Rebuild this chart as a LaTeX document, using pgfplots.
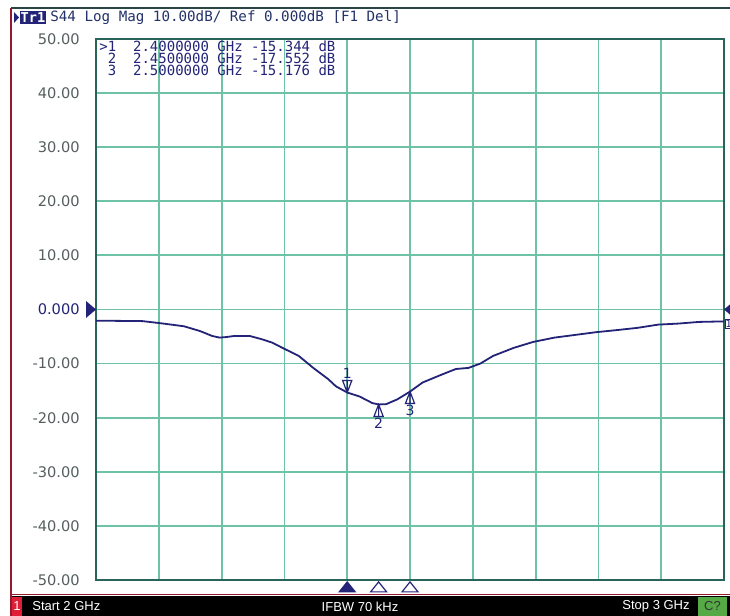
\documentclass[border=0pt]{standalone}
\usepackage{fontspec}
\usepackage{pgfplots}
\pgfplotsset{compat=1.18}
\setmainfont{DejaVu Sans}
\newfontfamily\dejavu{DejaVu Sans}
\newfontfamily\mono{DejaVu Sans Mono}
\newfontfamily\libsans{Liberation Sans}
\definecolor{navyc}{RGB}{35,35,120}
\definecolor{titlec}{RGB}{35,50,105}
\definecolor{gridc}{RGB}{110,195,165}
\definecolor{framec}{RGB}{40,100,90}
\definecolor{labgray}{RGB}{85,95,95}
\definecolor{redline}{RGB}{150,25,45}
\definecolor{topline}{RGB}{40,70,70}
\definecolor{redbox}{RGB}{225,30,55}
\definecolor{greenbox}{RGB}{85,170,70}

\pgfdeclareplotmark{mkdown}{%
  \pgfpathmoveto{\pgfpoint{0bp}{0bp}}%
  \pgfpathlineto{\pgfpoint{-2.3bp}{6bp}}%
  \pgfpathlineto{\pgfpoint{2.3bp}{6bp}}%
  \pgfpathclose
  \pgfpathmoveto{\pgfpoint{0bp}{0bp}}%
  \pgfpathlineto{\pgfpoint{0bp}{6bp}}%
  \pgfusepathqstroke}
\pgfdeclareplotmark{mkup}{%
  \pgfpathmoveto{\pgfpoint{0bp}{0bp}}%
  \pgfpathlineto{\pgfpoint{-2.3bp}{-6bp}}%
  \pgfpathlineto{\pgfpoint{2.3bp}{-6bp}}%
  \pgfpathclose
  \pgfpathmoveto{\pgfpoint{0bp}{0bp}}%
  \pgfpathlineto{\pgfpoint{0bp}{-6bp}}%
  \pgfusepathqstroke}
\pgfdeclareplotmark{btri}{%
  \pgfpathmoveto{\pgfpoint{-4bp}{0bp}}%
  \pgfpathlineto{\pgfpoint{4bp}{0bp}}%
  \pgfpathlineto{\pgfpoint{0bp}{5bp}}%
  \pgfpathclose
  \pgfusepathqfillstroke}
\pgfdeclareplotmark{refr}{%
  \pgfpathmoveto{\pgfpoint{0bp}{0bp}}%
  \pgfpathlineto{\pgfpoint{-5bp}{4.25bp}}%
  \pgfpathlineto{\pgfpoint{-5bp}{-4.25bp}}%
  \pgfpathclose
  \pgfusepathqfill}
\pgfdeclareplotmark{refl}{%
  \pgfpathmoveto{\pgfpoint{0bp}{0bp}}%
  \pgfpathlineto{\pgfpoint{5bp}{4.25bp}}%
  \pgfpathlineto{\pgfpoint{5bp}{-4.25bp}}%
  \pgfpathclose
  \pgfusepathqfill}

\begin{document}
\begin{tikzpicture}[x=0.5bp,y=0.5bp]
\useasboundingbox (0,0) rectangle (730,616);
\fill[white] (0,0) rectangle (730,616);
% bottom status bar
\fill[black] (11,0) rectangle (730,20);
\draw[redline, line width=0.9bp] (11,21.5) -- (730,21.5);
\draw[redline, line width=0.9bp] (11,0) -- (11,608);
\draw[topline, line width=0.8bp] (11,608) -- (730,608);
\fill[redbox] (12,0) rectangle (22,19);
\node[text=white, inner sep=0, font=\libsans\fontsize{6.5bp}{7bp}\selectfont] at (17,9.5) {1};
\node[anchor=west, inner sep=0, text=white, font=\libsans\fontsize{6.5bp}{7bp}\selectfont] at (32,9.5) {Start 2 GHz};
\node[inner sep=0, text=white, font=\libsans\fontsize{6.5bp}{7bp}\selectfont] at (360,9.5) {IFBW 70 kHz};
\node[anchor=east, inner sep=0, text=white, font=\libsans\fontsize{6.5bp}{7bp}\selectfont] at (690,9.5) {Stop 3 GHz};
\fill[greenbox] (698,0) rectangle (727,19);
\node[inner sep=0, text=black!80, font=\libsans\fontsize{6.5bp}{7bp}\selectfont] at (712.5,9.5) {C?};
% title
\fill[navyc] (14,604) -- (19,598.5) -- (14,593) -- cycle;
\fill[navyc] (20,592) rectangle (46,605);
\node[inner sep=0, text=white, font=\mono\bfseries\fontsize{6.8bp}{8bp}\selectfont] at (33,598.5) {Tr1};
\node[anchor=west, inner sep=0, text=titlec, font=\mono\fontsize{7.1bp}{8bp}\selectfont] at (50,598.5) {S44 Log Mag 10.00dB/ Ref 0.000dB [F1 Del]};

\begin{axis}[
  at={(48bp,18bp)}, anchor=south west, scale only axis,
  width=314bp, height=270.5bp,
  xmin=2, xmax=3, ymin=-50, ymax=50,
  xtick={2,2.1,2.2,2.3,2.4,2.5,2.6,2.7,2.8,2.9,3},
  xticklabels={},
  ytick={-50,-40,-30,-20,-10,0,10,20,30,40,50},
  yticklabels={-50.00,-40.00,-30.00,-20.00,-10.00,{\textcolor{navyc}{0.000}},10.00,20.00,30.00,40.00,50.00},
  yticklabel style={anchor=east, inner sep=0pt, xshift=-8bp, text=labgray, font=\dejavu\fontsize{7.3bp}{8bp}\selectfont},
  major tick length=0pt,
  grid=major,
  major grid style={draw=gridc, line width=0.9bp},
  axis line style={draw=framec, line width=0.8bp},
  clip=false,
]
\addplot[navyc, line width=0.9bp] coordinates {
(2.000,-2.1) (2.030,-2.1) (2.074,-2.15) (2.100,-2.5) (2.140,-3.1) (2.166,-4.0)
(2.185,-4.9) (2.197,-5.2) (2.207,-5.1) (2.220,-4.9) (2.245,-4.9) (2.264,-5.5)
(2.280,-6.1) (2.297,-7.1) (2.323,-8.6) (2.346,-10.8) (2.370,-12.9) (2.382,-14.2)
(2.400,-15.344) (2.420,-16.1) (2.440,-17.3) (2.450,-17.552) (2.462,-17.5) (2.480,-16.6)
(2.500,-15.176) (2.520,-13.5) (2.547,-12.2) (2.573,-11.0) (2.593,-10.8) (2.612,-10.0)
(2.632,-8.6) (2.665,-7.1) (2.696,-6.0) (2.730,-5.2) (2.763,-4.7) (2.796,-4.2)
(2.830,-3.8) (2.862,-3.4) (2.895,-2.8) (2.928,-2.6) (2.960,-2.3) (3.000,-2.2)
};
% marker 1 (active)
\addplot[navyc, only marks, mark=mkdown, mark options={line width=0.6bp},
  point meta=explicit symbolic, nodes near coords, nodes near coords align={above},
  every node near coord/.append style={inner sep=0pt, yshift=6.5bp, font=\dejavu\fontsize{7bp}{8bp}\selectfont, text=navyc}]
  coordinates {(2.4,-15.344) [1]};
% markers 2 and 3
\addplot[navyc, only marks, mark=mkup, mark options={line width=0.6bp},
  point meta=explicit symbolic, nodes near coords, nodes near coords align={below},
  every node near coord/.append style={inner sep=0pt, yshift=-6.7bp, font=\dejavu\fontsize{7bp}{8bp}\selectfont, text=navyc}]
  coordinates {(2.45,-17.552) [2] (2.5,-15.176) [3]};
% marker positions below the grid
\addplot[navyc, only marks, mark=btri, mark options={fill=navyc, line width=0.6bp}]
  coordinates {(2.4,-52.2)};
\addplot[navyc, only marks, mark=btri, mark options={fill=white, line width=0.6bp}]
  coordinates {(2.45,-52.2) (2.5,-52.2)};
% reference level markers
\addplot[navyc, only marks, mark=refr] coordinates {(2,0)};
\addplot[navyc, only marks, mark=refl] coordinates {(3,0)};
% trace end label
\addplot[navyc, only marks, mark=none,
  point meta=explicit symbolic, nodes near coords,
  every node near coord/.append style={anchor=north west, inner sep=0.3bp, yshift=1bp, xshift=0.3bp, draw=navyc, line width=0.3bp, font=\dejavu\fontsize{5bp}{6bp}\selectfont, text=navyc}]
  coordinates {(3,-2.2) [1]};
\end{axis}

% marker readout
\node[anchor=west, inner sep=0, text=navyc, font=\mono\fontsize{7bp}{8bp}\selectfont] at (99,570) {>1\ \ 2.4000000 GHz -15.344 dB};
\node[anchor=west, inner sep=0, text=navyc, font=\mono\fontsize{7bp}{8bp}\selectfont] at (99,558) {\ 2\ \ 2.4500000 GHz -17.552 dB};
\node[anchor=west, inner sep=0, text=navyc, font=\mono\fontsize{7bp}{8bp}\selectfont] at (99,546) {\ 3\ \ 2.5000000 GHz -15.176 dB};
\end{tikzpicture}
\end{document}
